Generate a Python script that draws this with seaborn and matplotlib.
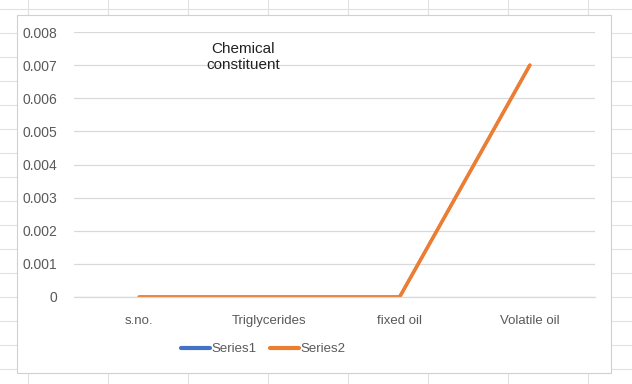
import pandas as pd
import matplotlib
matplotlib.use("Agg")
import matplotlib.pyplot as plt
import seaborn as sns
from matplotlib.patches import Rectangle
from matplotlib.lines import Line2D

# Chart data (Series1 lies hidden under Series2)
categories = ["s.no.", "Triglycerides", "fixed oil", "Volatile oil"]
series1 = [0, 0, 0, 0.007]
series2 = [0, 0, 0, 0.007]
y_ticks = [0, 0.001, 0.002, 0.003, 0.004, 0.005, 0.006, 0.007, 0.008]
y_labels = ["0", "0.001", "0.002", "0.003", "0.004", "0.005", "0.006", "0.007", "0.008"]

df = pd.DataFrame({
    "category": categories * 2,
    "value": series1 + series2,
    "series": ["Series1"] * 4 + ["Series2"] * 4,
})

sns.set_theme(style="white")
plt.rcParams["font.family"] = ["Liberation Sans", "DejaVu Sans"]

W, H = 632, 384
fig = plt.figure(figsize=(W / 100, H / 100), dpi=100)
fig.patch.set_facecolor("white")

# spreadsheet cell lines in the background
for x in [28, 108, 188, 268, 348, 428, 508, 588]:
    fig.add_artist(Line2D([x / W, x / W], [0, 1], color="#e1e1e1", lw=0.8, zorder=0))
for y in [9, 33, 57, 81, 105, 129, 153, 177, 201, 225, 249, 273, 297, 321, 345, 369]:
    fig.add_artist(Line2D([0, 1], [1 - y / H, 1 - y / H], color="#e1e1e1", lw=0.8, zorder=0))

# chart area
fig.add_artist(Rectangle((17 / W, 1 - 373 / H), (611 - 17) / W, (373 - 15) / H,
                         facecolor="white", edgecolor="#d0d0d0", lw=0.8, zorder=1))

ax = fig.add_axes([74 / W, 1 - 297 / H, (595 - 74) / W, (297 - 32) / H])
ax.set_zorder(2)
ax.patch.set_alpha(0)

sns.lineplot(data=df, x="category", y="value", hue="series",
             palette={"Series1": "#4472C4", "Series2": "#ED7D31"},
             linewidth=2.6, ax=ax, legend=False, sort=False)
ax.lines[0].set_linewidth(2.0)

ax.set_xlim(-0.5, 3.5)
ax.set_ylim(0, 0.008)
ax.set_yticks(y_ticks)
ax.set_yticklabels(y_labels)
ax.yaxis.grid(True, color="#d9d9d9", lw=0.9)
ax.set_axisbelow(True)
for s in ["top", "right", "left"]:
    ax.spines[s].set_visible(False)
ax.spines["bottom"].set_color("#d9d9d9")
ax.spines["bottom"].set_linewidth(0.9)
ax.tick_params(axis="y", length=0, pad=12, labelsize=10, labelcolor="#595959")
ax.tick_params(axis="x", length=0, pad=13, labelsize=9.5, labelcolor="#595959")
ax.set_xlabel("")
ax.set_ylabel("")

fig.text(243 / W, 1 - 57 / H, "Chemical\nconstituent", ha="center", va="center",
         fontsize=11, color="#222222", linespacing=1.25, zorder=3)

handles = [Line2D([0], [0], color="#4472C4", lw=3),
           Line2D([0], [0], color="#ED7D31", lw=3)]
fig.legend(handles, ["Series1", "Series2"], loc="center", bbox_to_anchor=(263 / W, 1 - 349 / H),
           ncol=2, frameon=False, fontsize=9.5, handlelength=2.2, handletextpad=0.1,
           columnspacing=1.0, labelcolor="#595959")

fig.savefig("out.png", dpi=100)
